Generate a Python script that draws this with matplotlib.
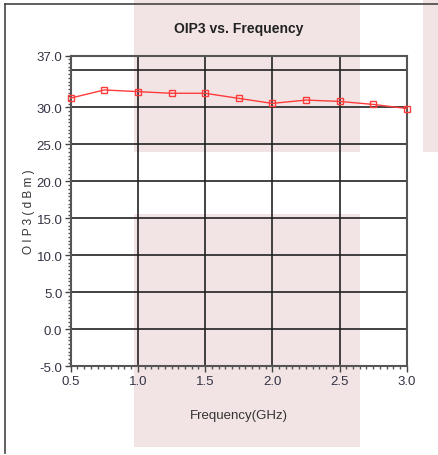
import matplotlib
matplotlib.use("Agg")
import matplotlib.pyplot as plt
from matplotlib.patches import Rectangle
from matplotlib.lines import Line2D
from matplotlib.ticker import MultipleLocator

plt.rcParams['font.family'] = ['Liberation Sans', 'DejaVu Sans']

# data
freq_ghz = [0.5, 0.75, 1.0, 1.25, 1.5, 1.75, 2.0, 2.25, 2.5, 2.75, 3.0]
oip3_dbm = [31.27, 32.37, 32.14, 31.92, 31.92, 31.23, 30.55, 31.0, 30.82, 30.41, 29.86]
y_ticks = [-5, 0, 5, 10, 15, 20, 25, 30, 37]
x_ticks = [0.5, 1.0, 1.5, 2.0, 2.5, 3.0]

W, H = 438, 456
fig = plt.figure(figsize=(W / 100, H / 100), dpi=100)

def px(x, y, w, h):
    # pixel box (top-left origin) -> figure fraction
    return (x / W, 1 - (y + h) / H, w / W, h / H)

# pink overlay blocks behind the plot
pink = '#f2e4e4'
for box in [(134, 0, 226, 153), (134, 215, 226, 233), (423, 0, 15, 153)]:
    x0, y0, w, h = px(*box)
    fig.patches.append(Rectangle((x0, y0), w, h, transform=fig.transFigure,
                                 facecolor=pink, edgecolor='none', zorder=-5))

# outer frame (left + top)
fig.lines.append(Line2D([5 / W, 5 / W], [1 - 454 / H, 1 - 5 / H], transform=fig.transFigure,
                        color='#444444', lw=1.2))
fig.lines.append(Line2D([5 / W, 1.0], [1 - 5 / H, 1 - 5 / H], transform=fig.transFigure,
                        color='#444444', lw=1.2))

ax = fig.add_axes([70.7 / W, 1 - 367.3 / H, 336 / W, 310.6 / H])
ax.patch.set_alpha(0)

ax.plot(freq_ghz, oip3_dbm, color='#ff3b3b', lw=1.0, marker='s', ms=5,
        mfc='none', mec='#ff3b3b', mew=1.0, zorder=5, clip_on=False)

ax.set_xlim(0.5, 3.0)
ax.set_ylim(-5, 37)
ax.set_xticks(x_ticks)
ax.set_yticks(y_ticks)
ax.set_xticklabels([f"{v:.1f}" for v in x_ticks])
ax.set_yticklabels([f"{v:.1f}" for v in y_ticks])
ax.xaxis.set_minor_locator(MultipleLocator(0.05))
ax.yaxis.set_minor_locator(MultipleLocator(0.5))

grid_c = '#222222'
for v in [1.0, 1.5, 2.0, 2.5]:
    ax.axvline(v, color=grid_c, lw=1.2, zorder=1)
for v in [0, 5, 10, 15, 20, 25, 30, 35]:
    ax.axhline(v, color=grid_c, lw=1.2, zorder=1)

for s in ax.spines.values():
    s.set_color('#555555')
    s.set_linewidth(1.5)

ax.tick_params(axis='both', which='major', length=4, width=1, color='#444444',
               labelsize=9.5, labelcolor='#333344', direction='out', pad=2)
ax.tick_params(axis='both', which='minor', length=2, width=1, color='#555555',
               direction='out')

ax.set_title('OIP3 vs. Frequency', fontsize=10, fontweight='bold', color='#222222', pad=17)
ax.set_xlabel('Frequency(GHz)', fontsize=9.5, color='#333333', labelpad=16)
ax.set_ylabel('O I P 3 ( d B m )', fontsize=8.5, color='#333333', labelpad=1)

fig.savefig('out.png', dpi=100)
